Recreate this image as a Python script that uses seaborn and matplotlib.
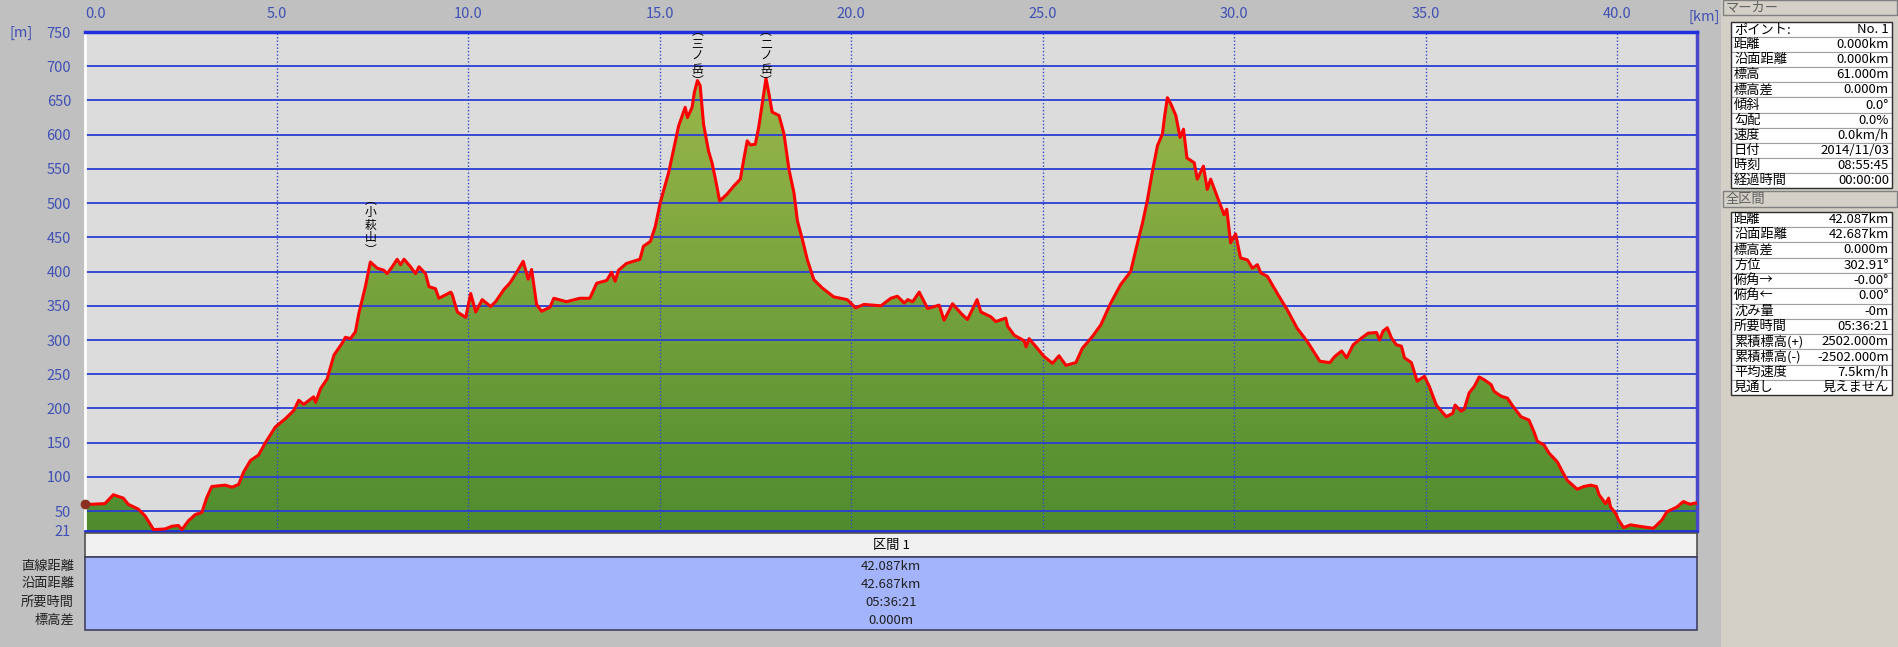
import numpy as np
import seaborn as sns
import matplotlib.pyplot as plt
from matplotlib.patches import Rectangle
from matplotlib.colors import LinearSegmentedColormap

# Elevation profile (distance in km, elevation in m).
dist_km = [
    0.00, 0.17, 0.52, 0.74, 1.00, 1.13, 1.39, 1.57, 1.70, 1.79,
    2.09, 2.27, 2.44, 2.53, 2.70, 2.88, 3.05, 3.18, 3.31, 3.66,
    3.84, 4.01, 4.14, 4.32, 4.53, 4.71, 4.97, 5.23, 5.45, 5.58,
    5.71, 5.97, 6.02, 6.15, 6.32, 6.50, 6.71, 6.80, 6.93, 7.06,
    7.15, 7.32, 7.45, 7.63, 7.80, 7.89, 8.02, 8.15, 8.24, 8.33,
    8.50, 8.63, 8.72, 8.89, 8.98, 9.15, 9.24, 9.55, 9.59, 9.72,
    9.94, 10.07, 10.20, 10.37, 10.59, 10.72, 10.94,
    11.09, 11.26, 11.44, 11.57, 11.66, 11.79, 11.92, 12.14, 12.24, 12.57,
    12.92, 13.18, 13.36, 13.62, 13.75, 13.84, 13.93, 14.14, 14.32, 14.49,
    14.58, 14.76, 14.89, 15.02, 15.15, 15.24, 15.37, 15.50, 15.67, 15.73,
    15.85, 15.91, 15.99, 16.06, 16.15, 16.28, 16.37, 16.46, 16.57, 16.76,
    16.94, 17.11, 17.20, 17.29, 17.37, 17.50, 17.59, 17.68, 17.78, 17.85,
    17.94, 18.12, 18.25, 18.38, 18.51, 18.60, 18.73, 18.86, 19.03, 19.25,
    19.55, 19.90, 20.12, 20.34, 20.78, 21.04, 21.21,
    21.39, 21.48, 21.61, 21.78, 22.00, 22.30, 22.43, 22.65, 22.87, 23.04,
    23.29, 23.39, 23.65, 23.78, 24.04, 24.09, 24.26, 24.52, 24.57, 24.65,
    24.83, 25.04, 25.26, 25.43, 25.61, 25.87, 26.04, 26.30, 26.52, 26.78,
    27.04, 27.30, 27.48, 27.61, 27.74, 27.87, 28.00, 28.13, 28.19, 28.26,
    28.35, 28.48, 28.59, 28.68, 28.77, 28.96, 29.04, 29.20, 29.30, 29.39,
    29.57, 29.74, 29.81, 29.91, 30.04, 30.17, 30.35, 30.48, 30.61, 30.70,
    30.87, 31.13, 31.39, 31.65, 31.91,
    32.07, 32.24, 32.50, 32.63, 32.81, 32.94, 33.11, 33.33, 33.50, 33.72,
    33.80, 33.89, 34.00, 34.11, 34.24, 34.37, 34.45, 34.63, 34.78, 34.97,
    35.10, 35.28, 35.54, 35.71, 35.77, 35.93, 36.01, 36.14, 36.27, 36.40,
    36.53, 36.71, 36.79, 36.97, 37.14, 37.27, 37.49, 37.70, 37.83, 37.92,
    38.09, 38.22, 38.44, 38.57, 38.70, 38.96, 39.13, 39.31, 39.46, 39.53,
    39.70, 39.78, 39.83, 39.96, 40.04, 40.17, 40.35, 40.69, 40.95, 41.04,
    41.17, 41.30, 41.56, 41.73, 41.91, 42.04, 42.087,
]
elev_m = [
    61, 60, 61, 74, 69, 60, 53, 43, 31, 23,
    24, 28, 29, 23, 36, 45, 48, 70, 86, 88,
    85, 89, 107, 124, 132, 150, 173, 185, 197, 212,
    206, 217, 209, 229, 243, 278, 295, 304, 302, 312,
    339, 378, 414, 405, 402, 397, 407, 418, 410, 418,
    407, 397, 407, 397, 378, 375, 361, 370, 366, 341,
    333, 368, 341, 359, 349, 356, 374,
    383, 398, 415, 389, 403, 352, 342, 348, 361, 356,
    361, 361, 383, 387, 399, 386, 402, 412, 415, 418,
    437, 444, 466, 501, 527, 545, 579, 613, 640, 625,
    640, 662, 679, 672, 615, 576, 559, 535, 503, 513,
    525, 535, 564, 591, 585, 586, 611, 645, 682, 662,
    633, 628, 601, 549, 515, 474, 447, 417, 388, 376,
    363, 359, 347, 352, 350, 361, 364,
    354, 359, 356, 370, 346, 351, 329, 353, 339, 330,
    359, 341, 334, 327, 332, 320, 307, 299, 290, 302,
    290, 276, 266, 277, 263, 267, 288, 305, 322, 354,
    381, 400, 442, 471, 505, 547, 584, 601, 628, 654,
    645, 628, 596, 608, 566, 559, 535, 554, 520, 535,
    508, 483, 491, 442, 455, 420, 417, 405, 410, 398,
    393, 368, 344, 317, 298,
    284, 269, 267, 276, 284, 274, 293, 303, 310, 311,
    300, 313, 318, 303, 293, 291, 274, 267, 240, 247,
    232, 205, 188, 193, 205, 196, 199, 223, 232, 246,
    242, 235, 225, 218, 215, 204, 188, 183, 166, 152,
    147, 135, 122, 108, 95, 82, 86, 88, 86, 74,
    61, 69, 56, 47, 37, 26, 30, 27, 25, 30,
    37, 49, 56, 64, 60, 62, 61,
]

x_ticks = [0, 5, 10, 15, 20, 25, 30, 35, 40]
y_ticks = [21, 50, 100, 150, 200, 250, 300, 350, 400, 450, 500, 550, 600, 650, 700, 750]

peak_names = ['小萩山', '三ノ岳', '二ノ岳']
peak_km = [7.45, 15.99, 17.78]

section_name = '区間 1'
section_labels = ['直線距離', '沿面距離', '所要時間', '標高差']
section_values = ['42.087km', '42.687km', '05:36:21', '0.000m']

marker_labels = ['ポイント:', '距離', '沿面距離', '標高', '標高差', '傾斜', '勾配',
                 '速度', '日付', '時刻', '経過時間']
marker_values = ['No. 1', '0.000km', '0.000km', '61.000m', '0.000m', '0.0°', '0.0%',
                 '0.0km/h', '2014/11/03', '08:55:45', '00:00:00']

total_labels = ['距離', '沿面距離', '標高差', '方位', '俯角→', '俯角←', '沈み量',
                '所要時間', '累積標高(+)', '累積標高(-)', '平均速度', '見通し']
total_values = ['42.087km', '42.687km', '0.000m', '302.91°', '-0.00°', '0.00°', '-0m',
                '05:36:21', '2502.000m', '-2502.000m', '7.5km/h', '見えません']

# Style
sns.set_style('white')
plt.rcParams['font.family'] = ['Noto Sans CJK JP', 'DejaVu Sans']

W, H, DPI = 1899, 647, 100
BLUE_TXT = '#4050b4'
GRID_BLUE = '#2a3ed4'

fig = plt.figure(figsize=(W / DPI, H / DPI), dpi=DPI, facecolor='#c0c0c0')


def px_box(x0, y0, x1, y1):
    return [x0 / W, 1 - y1 / H, (x1 - x0) / W, (y1 - y0) / H]


# ---- main profile axes ----
ax = fig.add_axes(px_box(85, 32, 1697, 531))
ax.set_facecolor('#dcdcdc')
x_max = dist_km[-1]

poly = ax.fill_between(dist_km, elev_m, y_ticks[0], color='none', lw=0)
grad = np.linspace(0, 1, 256).reshape(-1, 1)
cmap = LinearSegmentedColormap.from_list('hill', ['#4f8c2e', '#a2bb4c'])
im = ax.imshow(grad, extent=[0, x_max, y_ticks[0], y_ticks[-1]], origin='lower',
               aspect='auto', cmap=cmap, zorder=1)
im.set_clip_path(poly.get_paths()[0], transform=ax.transData)

ax.hlines(y_ticks[1:-1], 0, x_max, colors=GRID_BLUE, lw=1.3, zorder=2)
ax.vlines(x_ticks, y_ticks[0], y_ticks[-1], colors='#3848c8', lw=1,
          linestyles=(0, (1, 1.5)), zorder=2)

sns.lineplot(x=dist_km, y=elev_m, ax=ax, color='#ff0000', lw=2.2,
             sort=False, estimator=None, zorder=4)
ax.plot(dist_km[0], elev_m[0], marker='o', ms=6, color='#8a3020',
        clip_on=False, zorder=5)

ax.set_xlim(0, x_max)
ax.set_ylim(y_ticks[0], y_ticks[-1])
ax.set_xlabel('')
ax.set_ylabel('')

ax.set_xticks(x_ticks)
ax.set_xticklabels([f'{v:.1f}' for v in x_ticks])
ax.xaxis.tick_top()
ax.tick_params(axis='x', length=0, pad=8, labelsize=10.5, labelcolor=BLUE_TXT)
ax.get_xticklabels()[0].set_horizontalalignment('left')
ax.set_yticks(y_ticks)
ax.set_yticklabels([str(v) for v in y_ticks])
ax.tick_params(axis='y', length=0, pad=10, labelsize=10.5, labelcolor=BLUE_TXT)

for s in ax.spines.values():
    s.set_visible(True)
ax.spines['top'].set_color('#2030e0')
ax.spines['top'].set_linewidth(2.5)
ax.spines['right'].set_color('#4a48c8')
ax.spines['right'].set_linewidth(2.5)
ax.spines['bottom'].set_color('#2030e0')
ax.spines['bottom'].set_linewidth(2)
ax.spines['left'].set_color('white')
ax.spines['left'].set_linewidth(2)

# vertical peak labels (kept just under the frame when the peak is high)
for name, km in zip(peak_names, peak_km):
    top = min(np.interp(km, dist_km, elev_m) + 100, y_ticks[-1] + 10)
    ax.text(km, top, '︵\n' + '\n'.join(name) + '\n︶', ha='center', va='top',
            fontsize=8.5, linespacing=0.95, color='black', zorder=6)

# ---- overlay in pixel coordinates for tables and unit labels ----
ov = fig.add_axes([0, 0, 1, 1])
ov.set_xlim(0, W)
ov.set_ylim(H, 0)
ov.axis('off')

# right info panel background
ov.add_patch(Rectangle((1721, 0), W - 1721, H, fc='#d4d0c8', ec='none', zorder=0))

ov.text(10, 33, '[m]', ha='left', va='center', fontsize=10.5, color=BLUE_TXT)
ov.text(1720, 17, '[km]', ha='right', va='center', fontsize=10.5, color=BLUE_TXT,
        zorder=3)

# section table under the profile
ov.add_patch(Rectangle((85, 533), 1612, 24, fc='#f0f0f0', ec='#505050', lw=1.2))
ov.text(891, 545, section_name, ha='center', va='center', fontsize=9.5, color='black')
ov.add_patch(Rectangle((85, 557), 1612, 73, fc='#a4b4fc', ec='#404060', lw=1.2))
for i, (lab, val) in enumerate(zip(section_labels, section_values)):
    y = 566 + i * 18
    ov.text(74, y, lab, ha='right', va='center', fontsize=9.5, color='#202020')
    ov.text(891, y, val, ha='center', va='center', fontsize=9.5, color='#202020')


def panel_header(y0, y1, text):
    ov.add_patch(Rectangle((1723, y0), 174, y1 - y0, fc='#d4d0c8', ec='#808080', lw=1))
    ov.text(1726, (y0 + y1) / 2, text, ha='left', va='center', fontsize=9.5,
            color='#606060')


def panel_table(y0, row_h, labels, values):
    for i, (lab, val) in enumerate(zip(labels, values)):
        y = y0 + i * row_h
        ov.add_patch(Rectangle((1731, y), 161, row_h, fc='white', ec='#a0a0a0', lw=0.8))
        ov.text(1734, y + row_h / 2, lab, ha='left', va='center', fontsize=9.5, color='black')
        ov.text(1889, y + row_h / 2, val, ha='right', va='center', fontsize=9.5, color='black')
    ov.add_patch(Rectangle((1731, y0), 161, row_h * len(labels), fc='none',
                           ec='#303030', lw=1))


panel_header(0, 15, 'マーカー')
panel_table(21.7, 15.15, marker_labels, marker_values)
panel_header(191, 207, '全区間')
panel_table(211.7, 15.3, total_labels, total_values)

fig.savefig('out.png', dpi=DPI, facecolor=fig.get_facecolor())
